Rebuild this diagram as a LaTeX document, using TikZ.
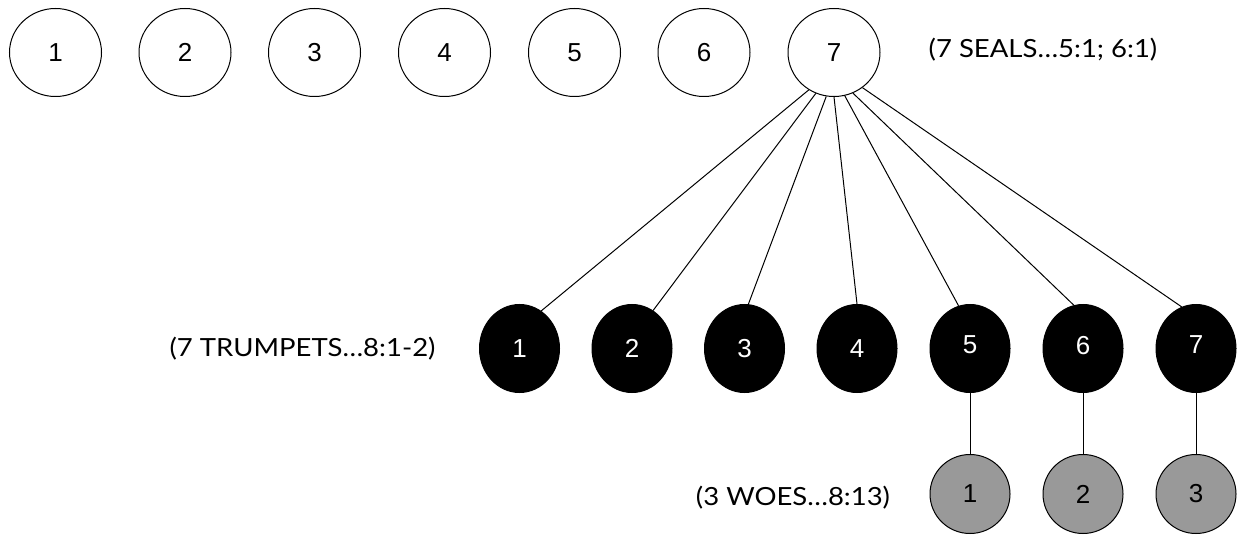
\documentclass[tikz,border=0pt]{standalone}
\usepackage{fontspec}
\setmainfont{Liberation Sans}
\newfontfamily\labelfont[FakeStretch=1.1]{Lato}
\newfontfamily\digitfont{Liberation Sans}
\usetikzlibrary{shapes.geometric}
\definecolor{woegray}{RGB}{153,153,153}
\begin{document}
\begin{tikzpicture}[x=1pt,y=-1pt,
  seal/.style={ellipse,draw=black,line width=1pt,fill=white,minimum width=92pt,minimum height=88pt,inner sep=0pt,font=\digitfont\fontsize{26}{30}\selectfont},
  trumpet/.style={ellipse,draw=black,line width=1pt,fill=black,text=white,minimum width=80pt,minimum height=88pt,inner sep=0pt,font=\digitfont\fontsize{26}{30}\selectfont},
  woe/.style={ellipse,draw=black,line width=1pt,fill=woegray,minimum width=80pt,minimum height=79pt,inner sep=0pt,font=\digitfont\fontsize{26}{30}\selectfont},
  lbl/.style={font=\labelfont\fontsize{25}{30}\selectfont,anchor=base,inner sep=0pt},
  link/.style={line width=1pt,draw=black}]
\useasboundingbox (0,0) rectangle (1247,537);
% seals
\foreach \i/\x in {1/55.5,2/185,3/314.5,4/444.5,5/574.5,6/704,7/834}
  \node[seal] (s\i) at (\x,52.5) {\i};
% trumpets
\foreach \i/\x in {1/519.5,2/632,3/744.5,4/857}
  \node[trumpet] (t\i) at (\x,348.5) {\i};
\foreach \i/\x in {5/970,6/1083,7/1196}
  \node[trumpet] (t\i) at (\x,348.5) {\raisebox{7pt}{\i}};
% woes
\node[woe] (w1) at (970,494) {1};
\node[woe] (w2) at (1083,494) {2};
\node[woe] (w3) at (1196,494) {3};
% labels
\node[lbl] (ls) at (1043,57.3) {(7 SEALS\dots5:1; 6:1)};
\node[lbl] (lt) at (302.5,356.7) {(7 TRUMPETS\dots8:1-2)};
\node[lbl] (lw) at (793,505) {(3 WOES\dots8:13)};
% links
\draw[link] (s7.236) -- (t1.60.5);
\draw[link] (s7.246) -- (t2.61.5);
\draw[link] (s7.260) -- (t3.85);
\draw[link] (s7.270) -- (t4.90);
\draw[link] (s7.284) -- (t5.105);
\draw[link] (s7.295) -- (t6.102.6);
\draw[link] (s7.309) -- (t7.109);
\draw[link] (t5) -- (w1);
\draw[link] (t6) -- (w2);
\draw[link] (t7) -- (w3);
\end{tikzpicture}
\end{document}
